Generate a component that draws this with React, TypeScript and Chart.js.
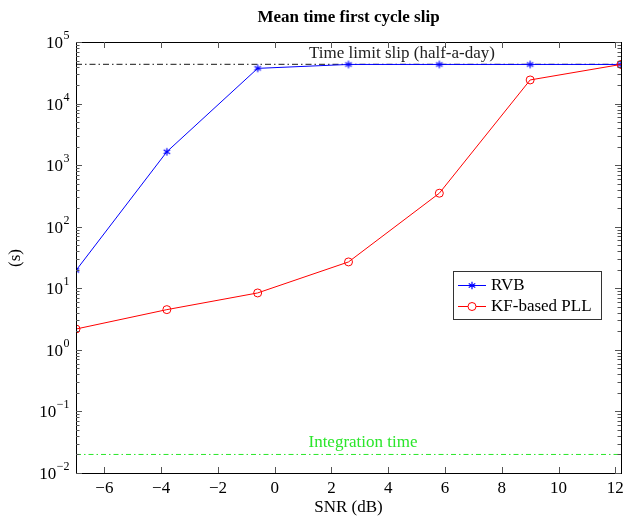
import React, { useEffect, useRef } from "react";
import { Chart, registerables } from "chart.js";

Chart.register(...registerables);

const snr = [-7, -3.8, -0.6, 2.6, 5.8, 9, 12.2];
const rvb = [19.5, 1650, 37300, 43200, 43200, 43200, 43200];
const kfPll = [2.18, 4.5, 8.4, 26.8, 350, 24200, 43200];
const timeLimit = 43200;
const integrationTime = 0.02;
const xTicks = [-6, -4, -2, 0, 2, 4, 6, 8, 10, 12];
const yTicks = [0.01, 0.1, 1, 10, 100, 1000, 10000, 100000];
const xMin = -7;
const xMax = 12.2;

const SERIF = "'Liberation Serif', 'DejaVu Serif', serif";
const fmtX = (v: number) => (v < 0 ? "\u2212" + Math.abs(v) : String(v));
const fmtExp = (v: number) => {
  const e = Math.round(Math.log10(v));
  return e < 0 ? "\u2212" + Math.abs(e) : String(e);
};

function drawAsterisk(ctx: CanvasRenderingContext2D, cx: number, cy: number, r: number) {
  ctx.beginPath();
  for (let k = 0; k < 3; k++) {
    const ang = Math.PI / 2 + (k * Math.PI) / 3;
    ctx.moveTo(cx + r * Math.cos(ang), cy + r * Math.sin(ang));
    ctx.lineTo(cx - r * Math.cos(ang), cy - r * Math.sin(ang));
  }
  ctx.stroke();
}

function makeAsteriskImage(): HTMLCanvasElement {
  const c = document.createElement("canvas");
  c.width = 10;
  c.height = 10;
  const g = c.getContext("2d")!;
  g.strokeStyle = "#0000ff";
  g.lineWidth = 1.2;
  drawAsterisk(g, 5, 5, 3.8);
  return c;
}

const framePlugin = {
  id: "frame",
  afterDraw(chart: any) {
    const { ctx, chartArea: a, scales } = chart;
    const xs = scales.x;
    const ys = scales.y;
    ctx.save();
    ctx.strokeStyle = "#000";
    ctx.lineWidth = 1;
    ctx.strokeRect(Math.round(a.left) + 0.5, Math.round(a.top) + 0.5, Math.round(a.right - a.left), Math.round(a.bottom - a.top));
    ctx.strokeStyle = "#555";
    ctx.beginPath();
    for (const t of xTicks) {
      const px = Math.round(xs.getPixelForValue(t)) + 0.5;
      ctx.moveTo(px, a.bottom);
      ctx.lineTo(px, a.bottom - 6);
      ctx.moveTo(px, a.top);
      ctx.lineTo(px, a.top + 6);
    }
    for (let e = -2; e <= 5; e++) {
      for (let m = 1; m <= 9; m++) {
        const v = m * Math.pow(10, e);
        if (v > 1e5) break;
        const py = Math.round(ys.getPixelForValue(v)) + 0.5;
        const len = m === 1 ? 6 : 3.5;
        ctx.moveTo(a.left, py);
        ctx.lineTo(a.left + len, py);
        ctx.moveTo(a.right, py);
        ctx.lineTo(a.right - len, py);
      }
    }
    ctx.stroke();

    // y tick labels: base 10 with raised exponent
    ctx.fillStyle = "#000";
    ctx.textBaseline = "alphabetic";
    ctx.textAlign = "left";
    for (const v of yTicks) {
      const py = ys.getPixelForValue(v);
      const ex = fmtExp(v);
      ctx.font = `12px ${SERIF}`;
      const we = ctx.measureText(ex).width;
      ctx.font = `17px ${SERIF}`;
      const wb = ctx.measureText("10").width;
      const right = a.left - 7;
      const xb = right - we - wb;
      ctx.fillText("10", xb, py + 6);
      ctx.font = `12px ${SERIF}`;
      ctx.fillText(ex, xb + wb + 0.5, py - 3);
    }

    // texts
    ctx.textAlign = "center";
    ctx.textBaseline = "middle";
    ctx.font = `bold 17px ${SERIF}`;
    ctx.fillText("Mean time first cycle slip", (a.left + a.right) / 2, 18);
    ctx.font = `17px ${SERIF}`;
    ctx.fillText("SNR (dB)", (a.left + a.right) / 2, 508);
    ctx.save();
    ctx.translate(16, 258);
    ctx.rotate(-Math.PI / 2);
    ctx.fillText("(s)", 0, 0);
    ctx.restore();

    ctx.fillStyle = "#222";
    ctx.fillText("Time limit slip (half-a-day)", 402, 54);
    ctx.fillStyle = "#2ae62a";
    ctx.fillText("Integration time", 363, 443);

    // legend
    const lx = 453, ly = 271, lw = 148, lh = 48;
    ctx.fillStyle = "#fff";
    ctx.fillRect(lx, ly, lw, lh);
    ctx.strokeStyle = "#333";
    ctx.strokeRect(lx + 0.5, ly + 0.5, lw, lh);
    const entries = [
      { label: "RVB", color: "#0000ff", y: 285, star: true },
      { label: "KF-based PLL", color: "#ff0000", y: 306, star: false },
    ];
    for (const en of entries) {
      ctx.strokeStyle = en.color;
      ctx.lineWidth = 1;
      ctx.beginPath();
      ctx.moveTo(458, en.y + 0.5);
      ctx.lineTo(486, en.y + 0.5);
      ctx.stroke();
      if (en.star) {
        ctx.lineWidth = 1.2;
        drawAsterisk(ctx, 472, en.y + 0.5, 3.8);
        ctx.lineWidth = 1;
      } else {
        ctx.beginPath();
        ctx.fillStyle = "#fff";
        ctx.arc(472, en.y + 0.5, 4, 0, Math.PI * 2);
        ctx.fill();
        ctx.stroke();
      }
      ctx.fillStyle = "#000";
      ctx.textAlign = "left";
      ctx.font = `17px ${SERIF}`;
      ctx.fillText(en.label, 491, en.y + 1);
    }
    ctx.restore();
  },
};

export default function App() {
  const ref = useRef<HTMLCanvasElement>(null);
  useEffect(() => {
    document.body.style.margin = "0";
    const ctx = ref.current!.getContext("2d")!;
    const asterisk = makeAsteriskImage();
    const chart = new Chart(ctx, {
      type: "line",
      data: {
        datasets: [
          {
            label: "KF-based PLL",
            data: snr.map((x, i) => ({ x, y: kfPll[i] })),
            borderColor: "#ff0000",
            backgroundColor: "rgba(0,0,0,0)",
            borderWidth: 1,
            pointStyle: "circle",
            pointRadius: 4,
            pointBorderWidth: 1,
            pointBorderColor: "#ff0000",
            pointBackgroundColor: "rgba(0,0,0,0)",
            order: 0,
          },
          {
            label: "RVB",
            data: snr.map((x, i) => ({ x, y: rvb[i] })),
            borderColor: "#0000ff",
            backgroundColor: "#0000ff",
            borderWidth: 1,
            pointStyle: asterisk as any,
            pointRadius: 4,
            order: 1,
          },
          {
            label: "limit",
            data: [{ x: xMin, y: timeLimit }, { x: xMax, y: timeLimit }],
            borderColor: "#444",
            borderWidth: 1.2,
            borderDash: [6, 3, 1.5, 3],
            pointRadius: 0,
            order: 2,
          },
          {
            label: "integration",
            data: [{ x: xMin, y: integrationTime }, { x: xMax, y: integrationTime }],
            borderColor: "#2ae62a",
            borderWidth: 1,
            borderDash: [5, 3, 1.5, 3],
            pointRadius: 0,
            order: 3,
          },
        ],
      },
      options: {
        animation: false,
        responsive: false,
        maintainAspectRatio: false,
        layout: { padding: { top: 42, right: 10, left: 0, bottom: 0 } },
        plugins: { legend: { display: false }, tooltip: { enabled: false }, title: { display: false } },
        scales: {
          x: {
            type: "linear",
            min: xMin,
            max: xMax,
            grid: { display: false, drawTicks: false },
            border: { display: false },
            afterBuildTicks: (s: any) => {
              s.ticks = xTicks.map((v) => ({ value: v }));
            },
            afterFit: (s: any) => {
              s.height = 46;
            },
            ticks: {
              autoSkip: false,
              maxRotation: 0,
              padding: 5,
              color: "#000",
              font: { family: SERIF, size: 17 },
              callback: (v: any) => fmtX(Number(v)),
            },
          },
          y: {
            type: "logarithmic",
            min: yTicks[0],
            max: yTicks[yTicks.length - 1],
            grid: { display: false, drawTicks: false },
            border: { display: false },
            afterBuildTicks: (s: any) => {
              s.ticks = yTicks.map((v) => ({ value: v, major: true }));
            },
            afterFit: (s: any) => {
              s.width = 76;
            },
            ticks: {
              display: false,
            },
          },
        },
      },
      plugins: [framePlugin],
    });
    return () => chart.destroy();
  }, []);
  return (
    <div style={{ position: "fixed", left: 0, top: 0, width: 631, height: 519 }}>
      <canvas ref={ref} width={631} height={519} style={{ width: 631, height: 519 }} />
    </div>
  );
}
